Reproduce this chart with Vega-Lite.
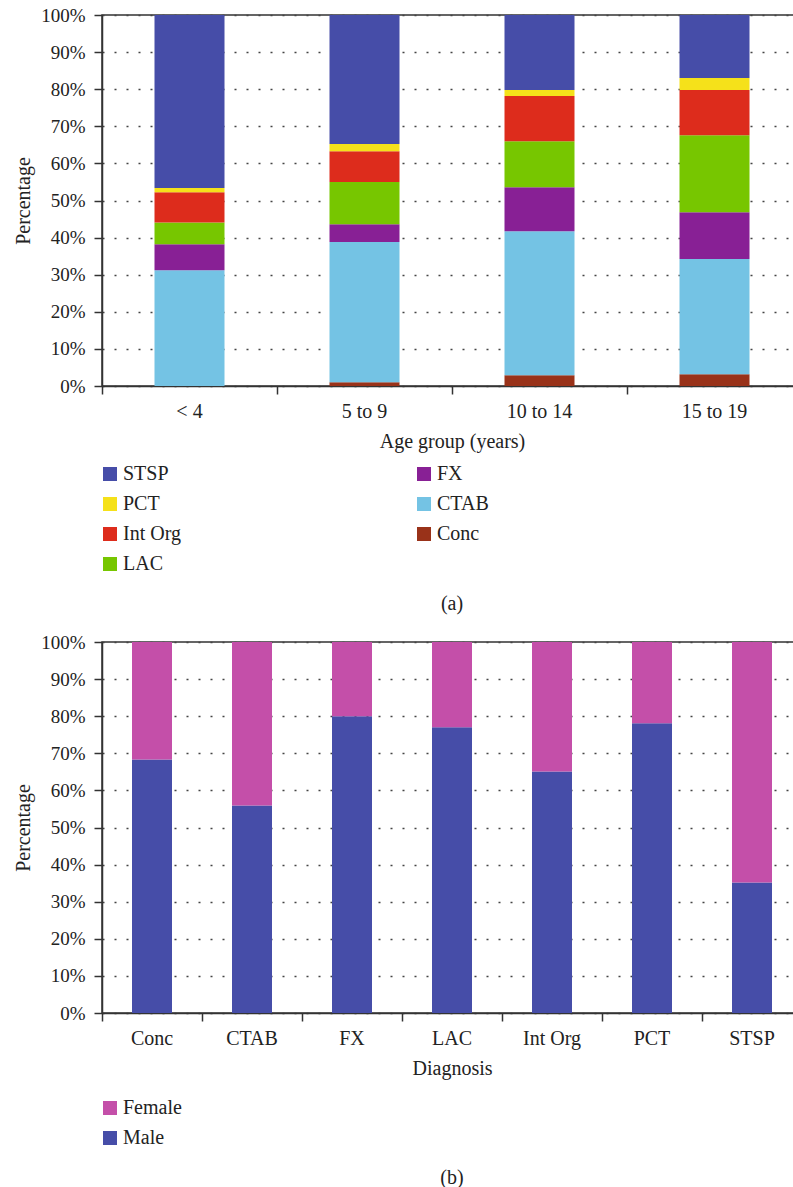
{
  "$schema": "https://vega.github.io/schema/vega-lite/v6.json",
  "background": "white",
  "padding": {"left": 12, "top": 5, "right": 0, "bottom": 0},
  "spacing": 17,
  "resolve": {"scale": {"color": "independent"}, "legend": {"color": "independent"}},
  "config": {
    "font": "Liberation Serif",
    "view": {"stroke": "#333333", "strokeWidth": 1.5},
    "axis": {
      "domainColor": "#333333",
      "domainWidth": 1.5,
      "tickColor": "#333333",
      "tickWidth": 1.5,
      "tickSize": 8,
      "labelFont": "Liberation Serif",
      "labelFontSize": 19,
      "labelColor": "#222222",
      "titleFont": "Liberation Serif",
      "titleFontSize": 20,
      "titleFontWeight": "normal",
      "titleColor": "#222222"
    },
    "axisY": {
      "grid": true,
      "gridColor": "#444444",
      "gridDash": [2, 10],
      "gridWidth": 1.5,
      "labelPadding": 9,
      "titlePadding": 7
    },
    "axisX": {"grid": false, "labelAngle": 0, "labelPadding": 7, "titlePadding": 10, "labelFontSize": 20},
    "legend": {
      "labelFont": "Liberation Serif",
      "labelFontSize": 20,
      "labelColor": "#222222",
      "symbolType": "square",
      "symbolSize": 196,
      "symbolStrokeWidth": 0,
      "labelOffset": 3,
      "rowPadding": 10
    },
    "title": {"font": "Liberation Serif", "fontSize": 20, "fontWeight": "normal", "color": "#222222"}
  },
  "vconcat": [
    {
      "width": 700,
      "height": 371,
      "title": {"text": "(a)", "orient": "bottom", "offset": 20},
      "data": {
        "values": [
          {"AgeGroup": "< 4", "Diagnosis": "Conc", "Percentage": 0},
          {"AgeGroup": "< 4", "Diagnosis": "CTAB", "Percentage": 31.2},
          {"AgeGroup": "< 4", "Diagnosis": "FX", "Percentage": 7.0},
          {"AgeGroup": "< 4", "Diagnosis": "LAC", "Percentage": 5.9},
          {"AgeGroup": "< 4", "Diagnosis": "Int Org", "Percentage": 8.1},
          {"AgeGroup": "< 4", "Diagnosis": "PCT", "Percentage": 1.2},
          {"AgeGroup": "< 4", "Diagnosis": "STSP", "Percentage": 46.6},
          {"AgeGroup": "5 to 9", "Diagnosis": "Conc", "Percentage": 1.0},
          {"AgeGroup": "5 to 9", "Diagnosis": "CTAB", "Percentage": 37.8},
          {"AgeGroup": "5 to 9", "Diagnosis": "FX", "Percentage": 4.8},
          {"AgeGroup": "5 to 9", "Diagnosis": "LAC", "Percentage": 11.4},
          {"AgeGroup": "5 to 9", "Diagnosis": "Int Org", "Percentage": 8.3},
          {"AgeGroup": "5 to 9", "Diagnosis": "PCT", "Percentage": 1.9},
          {"AgeGroup": "5 to 9", "Diagnosis": "STSP", "Percentage": 34.8},
          {"AgeGroup": "10 to 14", "Diagnosis": "Conc", "Percentage": 2.9},
          {"AgeGroup": "10 to 14", "Diagnosis": "CTAB", "Percentage": 38.8},
          {"AgeGroup": "10 to 14", "Diagnosis": "FX", "Percentage": 11.9},
          {"AgeGroup": "10 to 14", "Diagnosis": "LAC", "Percentage": 12.4},
          {"AgeGroup": "10 to 14", "Diagnosis": "Int Org", "Percentage": 12.2},
          {"AgeGroup": "10 to 14", "Diagnosis": "PCT", "Percentage": 1.6},
          {"AgeGroup": "10 to 14", "Diagnosis": "STSP", "Percentage": 20.2},
          {"AgeGroup": "15 to 19", "Diagnosis": "Conc", "Percentage": 3.2},
          {"AgeGroup": "15 to 19", "Diagnosis": "CTAB", "Percentage": 31.0},
          {"AgeGroup": "15 to 19", "Diagnosis": "FX", "Percentage": 12.6},
          {"AgeGroup": "15 to 19", "Diagnosis": "LAC", "Percentage": 20.8},
          {"AgeGroup": "15 to 19", "Diagnosis": "Int Org", "Percentage": 12.2},
          {"AgeGroup": "15 to 19", "Diagnosis": "PCT", "Percentage": 3.2},
          {"AgeGroup": "15 to 19", "Diagnosis": "STSP", "Percentage": 17.0}
        ]
      },
      "transform": [
        {"calculate": "indexof(['Conc', 'CTAB', 'FX', 'LAC', 'Int Org', 'PCT', 'STSP'], datum.Diagnosis)", "as": "StackOrder"}
      ],
      "mark": {"type": "bar", "width": {"band": 0.4}},
      "encoding": {
        "x": {
          "field": "AgeGroup",
          "type": "nominal",
          "sort": ["< 4", "5 to 9", "10 to 14", "15 to 19"],
          "scale": {"paddingInner": 0, "paddingOuter": 0},
          "axis": {"title": "Age group (years)", "bandPosition": 0}
        },
        "y": {
          "field": "Percentage",
          "type": "quantitative",
          "stack": true,
          "scale": {"domain": [0, 100], "nice": false},
          "axis": {"title": "Percentage", "values": [0, 10, 20, 30, 40, 50, 60, 70, 80, 90, 100], "labelExpr": "datum.value + '%'"}
        },
        "order": {"field": "StackOrder", "type": "quantitative", "sort": "ascending"},
        "color": {
          "field": "Diagnosis",
          "type": "nominal",
          "scale": {
            "domain": ["STSP", "PCT", "Int Org", "LAC", "FX", "CTAB", "Conc"],
            "range": ["#464da8", "#f5e11a", "#dd2c1c", "#77c600", "#882095", "#74c3e4", "#993219"]
          },
          "legend": {"title": null, "orient": "none", "legendX": -2, "legendY": 449, "columns": 2, "columnPadding": 233}
        }
      }
    },
    {
      "width": 700,
      "height": 371,
      "title": {"text": "(b)", "orient": "bottom", "offset": 20},
      "data": {
        "values": [
          {"Diagnosis": "Conc", "Sex": "Male", "Percentage": 68.3},
          {"Diagnosis": "Conc", "Sex": "Female", "Percentage": 31.7},
          {"Diagnosis": "CTAB", "Sex": "Male", "Percentage": 55.9},
          {"Diagnosis": "CTAB", "Sex": "Female", "Percentage": 44.1},
          {"Diagnosis": "FX", "Sex": "Male", "Percentage": 80.0},
          {"Diagnosis": "FX", "Sex": "Female", "Percentage": 20.0},
          {"Diagnosis": "LAC", "Sex": "Male", "Percentage": 77.0},
          {"Diagnosis": "LAC", "Sex": "Female", "Percentage": 23.0},
          {"Diagnosis": "Int Org", "Sex": "Male", "Percentage": 65.1},
          {"Diagnosis": "Int Org", "Sex": "Female", "Percentage": 34.9},
          {"Diagnosis": "PCT", "Sex": "Male", "Percentage": 78.1},
          {"Diagnosis": "PCT", "Sex": "Female", "Percentage": 21.9},
          {"Diagnosis": "STSP", "Sex": "Male", "Percentage": 35.2},
          {"Diagnosis": "STSP", "Sex": "Female", "Percentage": 64.8}
        ]
      },
      "mark": {"type": "bar", "width": {"band": 0.4}},
      "encoding": {
        "x": {
          "field": "Diagnosis",
          "type": "nominal",
          "sort": ["Conc", "CTAB", "FX", "LAC", "Int Org", "PCT", "STSP"],
          "scale": {"paddingInner": 0, "paddingOuter": 0},
          "axis": {"title": "Diagnosis", "bandPosition": 0}
        },
        "y": {
          "field": "Percentage",
          "type": "quantitative",
          "stack": true,
          "scale": {"domain": [0, 100], "nice": false},
          "axis": {"title": "Percentage", "values": [0, 10, 20, 30, 40, 50, 60, 70, 80, 90, 100], "labelExpr": "datum.value + '%'"}
        },
        "color": {
          "field": "Sex",
          "type": "nominal",
          "scale": {"domain": ["Female", "Male"], "range": ["#c44fa9", "#464da8"]},
          "legend": {"title": null, "orient": "none", "legendX": -2, "legendY": 456}
        }
      }
    }
  ]
}
